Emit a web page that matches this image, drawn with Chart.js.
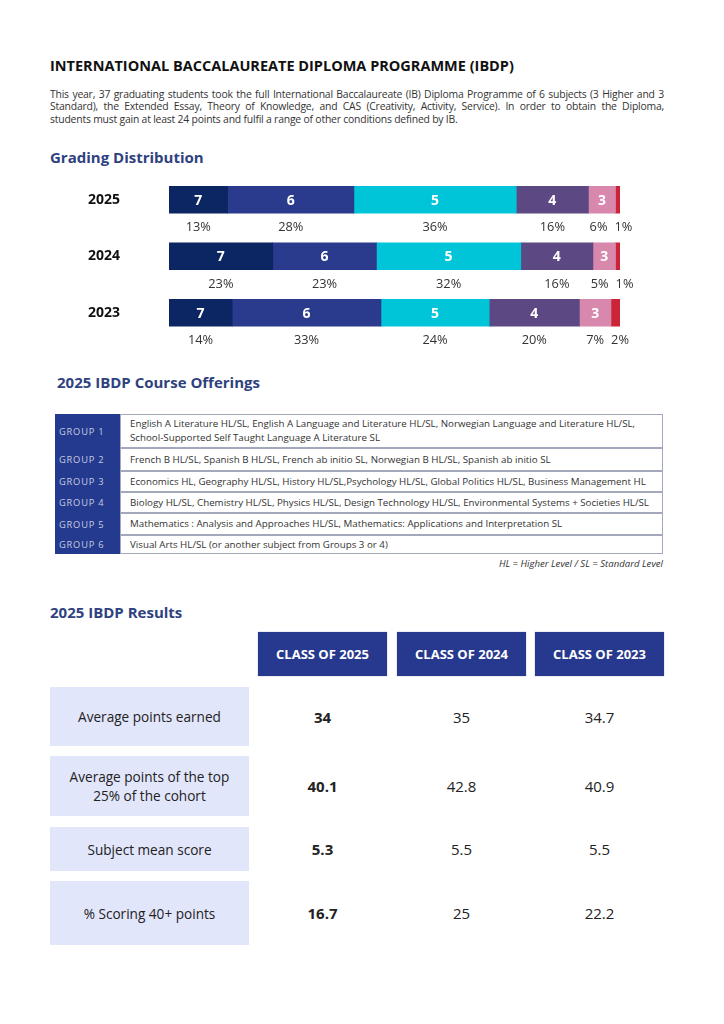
<!DOCTYPE html>
<html>
<head>
<meta charset="utf-8">
<script src="https://cdn.jsdelivr.net/npm/chart.js@4"></script>
<style>
  body { margin: 0; background: #fff; font-family: 'Open Sans', sans-serif; color: #333; }
  #page { position: relative; width: 724px; height: 1024px; overflow: hidden; }
  .abs { position: absolute; }
  .title { left: 50px; top: 56px; font-size: 14.5px; font-weight: 700; color: #111; white-space: nowrap; }
  .para { left: 50px; width: 614px; font-size: 10.4px; letter-spacing: -0.2px; color: #333; }
  .para div { height: 12.4px; line-height: 12.4px; text-align: justify; text-align-last: justify; white-space: nowrap; }
  .para div.last { text-align-last: left; }
  .head { font-size: 15px; font-weight: 700; color: #2f4280; white-space: nowrap; }
  .grp { left: 55px; width: 65px; background: #233a8e; color: #c7cce0; font-size: 9.3px; letter-spacing: 0.8px;
         display: flex; align-items: center; padding-left: 4px; box-sizing: border-box; }
  .crs { left: 120px; width: 543px; border: 1px solid #a3a8bd; box-sizing: border-box; font-size: 9.75px; color: #333;
         display: flex; align-items: center; padding-left: 9px; line-height: 13.7px; white-space: nowrap; }
  .note { right: 61px; top: 557px; font-size: 9.6px; font-style: italic; color: #333; }
  .hdr { background: #27398e; color: #fff; font-weight: 700; font-size: 13px; display: flex; align-items: center;
         justify-content: center; box-shadow: 0 0 1px #8890b8; }
  .lbl { left: 50px; width: 199px; background: #e2e6fb; color: #222; font-size: 13.6px; line-height: 19px;
         display: flex; align-items: center; justify-content: center; text-align: center; }
  .val { font-size: 15px; color: #222; display: flex; align-items: center; justify-content: center; }
  .val.b { font-weight: 700; }
</style>
</head>
<body>
<div id="page">
  <div class="abs title">INTERNATIONAL BACCALAUREATE DIPLOMA PROGRAMME (IBDP)</div>
  <div class="abs para" style="top:88px">
    <div>This year, 37 graduating students took the full International Baccalaureate (IB) Diploma Programme of 6 subjects (3 Higher and 3</div>
    <div>Standard), the Extended Essay, Theory of Knowledge, and CAS (Creativity, Activity, Service). In order to obtain the Diploma,</div>
    <div class="last">students must gain at least 24 points and fulfil a range of other conditions defined by IB.</div>
  </div>
  <div class="abs head" style="left:50px; top:147px">Grading Distribution</div>

  <div class="abs" style="left:60px; top:160px; width:600px; height:200px">
    <canvas id="gradeChart" width="600" height="200"></canvas>
  </div>

  <div class="abs head" style="left:57px; top:372px">2025 IBDP Course Offerings</div>
  <div id="courses"></div>
  <div class="abs note">HL = Higher Level / SL = Standard Level</div>

  <div class="abs head" style="left:50px; top:602px">2025 IBDP Results</div>
  <div id="results"></div>
</div>

<script>
// grading distribution, percent of grades awarded
var years = ['2025', '2024', '2023'];
var grades = ['7', '6', '5', '4', '3', '2'];
var grade7 = [13, 23, 14];
var grade6 = [28, 23, 33];
var grade5 = [36, 32, 24];
var grade4 = [16, 16, 20];
var grade3 = [6, 5, 7];
var grade2 = [1, 1, 2];
var gradeColors = ['#0c2563', '#2a3a8c', '#00c5d9', '#5c4883', '#d888ad', '#cc2437'];

// course offerings
var groups = ['GROUP 1', 'GROUP 2', 'GROUP 3', 'GROUP 4', 'GROUP 5', 'GROUP 6'];
var courses = [
  'English A Literature HL/SL, English A Language and Literature HL/SL, Norwegian Language and Literature HL/SL,<br>School-Supported Self Taught Language A Literature SL',
  'French B HL/SL, Spanish B HL/SL, French ab initio SL, Norwegian B HL/SL, Spanish ab initio SL',
  'Economics HL, Geography HL/SL, History HL/SL,Psychology HL/SL, Global Politics HL/SL, Business Management HL',
  'Biology HL/SL, Chemistry HL/SL, Physics HL/SL, Design Technology HL/SL, Environmental Systems + Societies HL/SL',
  'Mathematics : Analysis and Approaches HL/SL, Mathematics: Applications and Interpretation SL',
  'Visual Arts HL/SL (or another subject from Groups 3 or 4)'
];

// results
var classes = ['CLASS OF 2025', 'CLASS OF 2024', 'CLASS OF 2023'];
var measures = ['Average points earned', 'Average points of the top<br>25% of the cohort', 'Subject mean score', '% Scoring 40+ points'];
var class2025 = ['34', '40.1', '5.3', '16.7'];
var class2024 = ['35', '42.8', '5.5', '25'];
var class2023 = ['34.7', '40.9', '5.5', '22.2'];

// --- course table
var rowTops = [414, 448, 471, 492, 513, 535, 554];
var html = '';
for (var i = 0; i < groups.length; i++) {
  var t = rowTops[i], h = rowTops[i + 1] - rowTops[i];
  html += '<div class="abs grp" style="top:' + t + 'px;height:' + h + 'px">' + groups[i] + '</div>';
  html += '<div class="abs crs" style="top:' + t + 'px;height:' + h + 'px"><span>' + courses[i] + '</span></div>';
}
document.getElementById('courses').innerHTML = html;

// --- results table
var colLefts = [258, 397, 535];
var colW = 129;
var resRows = [[687, 59], [756, 60], [827, 44], [881, 64]];
var cols = [class2025, class2024, class2023];
html = '';
for (var c = 0; c < classes.length; c++) {
  html += '<div class="abs hdr" style="left:' + colLefts[c] + 'px;top:632px;width:' + colW + 'px;height:44px">' + classes[c] + '</div>';
}
for (var r = 0; r < measures.length; r++) {
  var rt = resRows[r][0], rh = resRows[r][1];
  html += '<div class="abs lbl" style="top:' + rt + 'px;height:' + rh + 'px">' + measures[r] + '</div>';
  for (var c = 0; c < cols.length; c++) {
    html += '<div class="abs val' + (c === 0 ? ' b' : '') + '" style="left:' + colLefts[c] + 'px;top:' + rt +
      'px;width:' + colW + 'px;height:' + rh + 'px">' + cols[c][r] + '</div>';
  }
}
document.getElementById('results').innerHTML = html;

// --- chart
Chart.defaults.font.family = "'Open Sans', sans-serif";

var segmentLabels = {
  id: 'segmentLabels',
  afterDatasetsDraw: function(chart) {
    var ctx = chart.ctx;
    ctx.save();
    ctx.textBaseline = 'middle';
    ctx.textAlign = 'center';
    var rows = [];
    chart.data.datasets.forEach(function(ds, i) {
      var meta = chart.getDatasetMeta(i);
      meta.data.forEach(function(bar, j) {
        var cx = (bar.x + bar.base) / 2;
        if (ds.label !== '2') {
          ctx.font = "700 14px 'Open Sans'";
          ctx.fillStyle = '#fff';
          ctx.fillText(ds.label, cx, bar.y + 1);
        }
        if (!rows[j]) rows[j] = [];
        rows[j].push({ text: ds.data[j] + '%', x: i === chart.data.datasets.length - 1 ? bar.x : cx, y: bar.y + 28 });
      });
    });
    ctx.font = "12.8px 'Open Sans'";
    ctx.fillStyle = '#333';
    rows.forEach(function(items) {
      items.forEach(function(it) { it.w = ctx.measureText(it.text).width; });
      // separate the last two labels if they collide
      var a = items[items.length - 2], b = items[items.length - 1];
      var gap = (b.x - b.w / 2) - (a.x + a.w / 2);
      if (gap < 7) { var push = (7 - gap) / 2; a.x -= push; b.x += push; }
      items.forEach(function(it) { ctx.fillText(it.text, it.x, it.y); });
    });
    ctx.restore();
  }
};

var series = [grade7, grade6, grade5, grade4, grade3, grade2];
new Chart(document.getElementById('gradeChart').getContext('2d'), {
  type: 'bar',
  data: {
    labels: years,
    datasets: grades.map(function(g, i) {
      return { label: g, data: series[i], backgroundColor: gradeColors[i], borderWidth: 0, barThickness: 27 };
    })
  },
  options: {
    indexAxis: 'y',
    responsive: false,
    animation: false,
    layout: { padding: { top: 11.5, bottom: 19, right: 40, left: 28 } },
    plugins: { legend: { display: false }, tooltip: { enabled: false } },
    scales: {
      x: { stacked: true, min: 0, max: 100, display: false },
      y: {
        stacked: true,
        grid: { display: false, drawTicks: false },
        border: { display: false },
        ticks: { color: '#111', padding: 0, crossAlign: 'far', font: { size: 14, weight: '700' } },
        afterFit: function(scale) { scale.width = 81; }
      }
    }
  },
  plugins: [segmentLabels]
});
</script>
</body>
</html>
